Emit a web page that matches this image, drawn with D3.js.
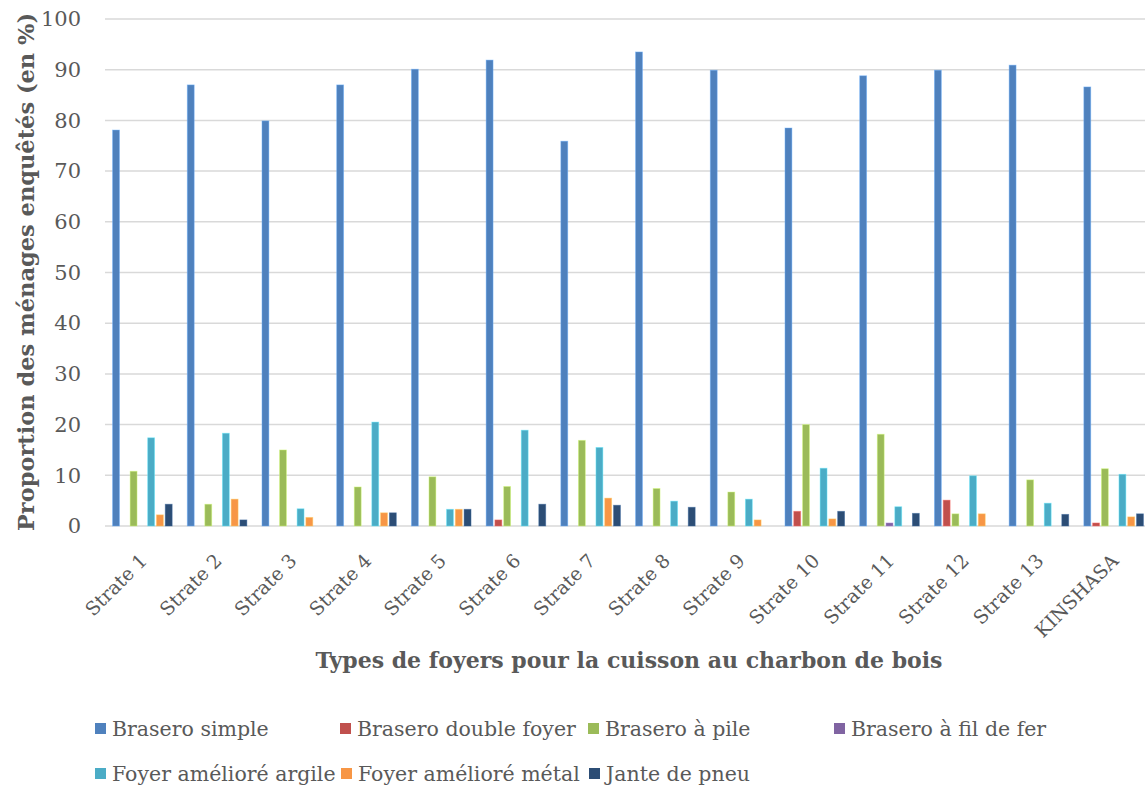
<!DOCTYPE html>
<html>
<head>
<meta charset="utf-8">
<script src="https://cdn.jsdelivr.net/npm/d3@7"></script>
<style>
  html, body { margin: 0; padding: 0; background: #fff; }
  svg { display: block; }
  text { font-family: "DejaVu Serif", "Liberation Serif", serif; }
</style>
</head>
<body>
<svg id="chart" width="1145" height="785"></svg>
<script>
// Strata of Kinshasa surveyed
const categories = ["Strate 1", "Strate 2", "Strate 3", "Strate 4", "Strate 5", "Strate 6", "Strate 7",
  "Strate 8", "Strate 9", "Strate 10", "Strate 11", "Strate 12", "Strate 13", "KINSHASA"];

// Types of charcoal stoves
const seriesNames = ["Brasero simple", "Brasero double foyer", "Brasero à pile", "Brasero à fil de fer",
  "Foyer amélioré argile", "Foyer amélioré métal", "Jante de pneu"];

const seriesColors = ["#4F81BD", "#C0504D", "#9BBB59", "#8064A2", "#4BACC6", "#F79646", "#2C4D75"];

// Share of households (%) per stove type, one value per stratum
const braseroSimple   = [78.1, 87.0, 79.9, 87.0, 90.1, 91.9, 75.9, 93.5, 89.9, 78.5, 88.8, 89.9, 90.9, 86.6];
const braseroDouble   = [0, 0, 0, 0, 0, 1.2, 0, 0, 0, 2.9, 0, 5.1, 0, 0.6];
const braseroPile     = [10.8, 4.3, 15.0, 7.7, 9.7, 7.8, 16.9, 7.4, 6.7, 20.0, 18.1, 2.4, 9.1, 11.3];
const braseroFilFer   = [0, 0, 0, 0, 0, 0, 0, 0, 0, 0, 0.6, 0, 0, 0];
const foyerArgile     = [17.4, 18.3, 3.4, 20.5, 3.3, 18.9, 15.5, 4.9, 5.3, 11.4, 3.8, 9.9, 4.5, 10.2];
const foyerMetal      = [2.2, 5.3, 1.7, 2.6, 3.3, 0, 5.5, 0, 1.2, 1.4, 0, 2.4, 0, 1.8];
const jantePneu       = [4.3, 1.2, 0, 2.6, 3.3, 4.3, 4.1, 3.7, 0, 2.9, 2.5, 0, 2.3, 2.4];

const yTicks = [0, 10, 20, 30, 40, 50, 60, 70, 80, 90, 100];

const seriesValues = [braseroSimple, braseroDouble, braseroPile, braseroFilFer, foyerArgile, foyerMetal, jantePneu];

const svg = d3.select("#chart");
svg.append("rect").attr("width", 1145).attr("height", 785).attr("fill", "#fff");

const plot = { left: 105, right: 1151, top: 19, bottom: 526 };

const x = d3.scaleBand().domain(categories).range([plot.left, plot.right]).padding(0);
const xs = d3.scaleBand().domain(d3.range(seriesNames.length)).range([0, x.bandwidth()])
  .paddingInner(0.21).paddingOuter(0.86);
const y = d3.scaleLinear().domain([0, 100]).range([plot.bottom, plot.top]);

// Horizontal gridlines
svg.append("g")
  .selectAll("line")
  .data(yTicks)
  .join("line")
  .attr("x1", plot.left).attr("x2", plot.right)
  .attr("y1", d => y(d)).attr("y2", d => y(d))
  .attr("stroke", "#d9d9d9").attr("stroke-width", 1.5);

// Y axis labels
const yAxis = d3.axisLeft(y).tickValues(yTicks).tickSize(0).tickPadding(0);
svg.append("g")
  .attr("transform", `translate(81,0)`)
  .call(yAxis)
  .call(g => g.select(".domain").remove())
  .call(g => g.selectAll("text")
    .attr("font-family", "DejaVu Serif")
    .attr("font-size", 21)
    .attr("fill", "#595959"));

// Bars
const groups = svg.append("g")
  .selectAll("g")
  .data(categories)
  .join("g")
  .attr("transform", d => `translate(${x(d)},0)`);

groups.selectAll("rect")
  .data((c, i) => seriesValues.map((vals, s) => ({ s, v: vals[i] })).filter(d => d.v > 0))
  .join("rect")
  .attr("x", d => xs(d.s))
  .attr("width", xs.bandwidth())
  .attr("y", d => y(d.v))
  .attr("height", d => y(0) - y(d.v))
  .attr("fill", d => seriesColors[d.s])
  .attr("stroke", d => d3.color(seriesColors[d.s]).brighter(0.9))
  .attr("stroke-opacity", 0.55)
  .attr("stroke-width", 0.8);

// Category labels, slanted
svg.append("g")
  .selectAll("text")
  .data(categories)
  .join("text")
  .attr("transform", d => `translate(${x(d) + x.bandwidth() / 2 + 6},${plot.bottom + 36}) rotate(-45)`)
  .attr("text-anchor", "end")
  .attr("font-size", 19)
  .attr("fill", "#595959")
  .text(d => d);

// Axis titles
svg.append("text")
  .attr("transform", "translate(34,272) rotate(-90)")
  .attr("text-anchor", "middle")
  .attr("font-size", 22.5)
  .attr("font-weight", "bold")
  .attr("fill", "#595959")
  .text("Proportion des ménages enquêtés (en %)");

svg.append("text")
  .attr("x", 629).attr("y", 668)
  .attr("text-anchor", "middle")
  .attr("font-size", 22)
  .attr("font-weight", "bold")
  .attr("fill", "#595959")
  .text("Types de foyers pour la cuisson au charbon de bois");

// Legend
const legendPos = [[95, 723], [340, 723], [588, 723], [834, 723], [95, 768], [341, 768], [589, 768]];
const legend = svg.append("g")
  .selectAll("g")
  .data(seriesNames)
  .join("g")
  .attr("transform", (d, i) => `translate(${legendPos[i][0]},${legendPos[i][1]})`);
legend.append("rect")
  .attr("width", 11).attr("height", 11)
  .attr("fill", (d, i) => seriesColors[i]);
legend.append("text")
  .attr("x", 17).attr("y", 5.5)
  .attr("dy", "0.35em")
  .attr("font-size", 20.5)
  .attr("fill", "#595959")
  .text(d => d);
</script>
</body>
</html>
